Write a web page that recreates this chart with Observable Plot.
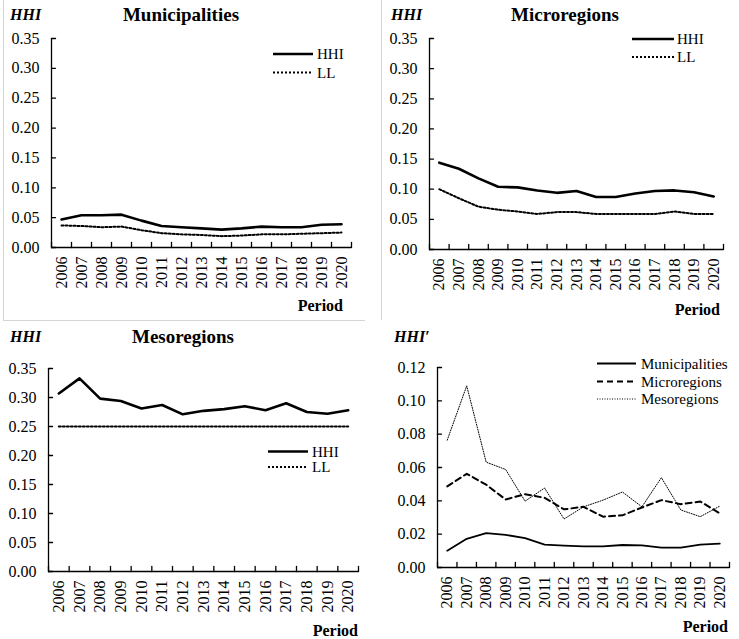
<!DOCTYPE html>
<html>
<head>
<meta charset="utf-8">
<script src="https://cdn.jsdelivr.net/npm/d3@7"></script>
<script src="https://cdn.jsdelivr.net/npm/@observablehq/plot@0.6"></script>
<style>
  html, body { margin: 0; padding: 0; background: #fff; }
  #wrap { position: relative; width: 739px; height: 639px; overflow: hidden; background: #fff; }
  #wrap > svg { position: absolute; }
  #wrap svg, #wrap svg text { font-family: 'Liberation Serif', 'Times New Roman', serif; }
</style>
</head>
<body>
<div id="wrap"></div>
<script>
// ---------- data ----------
const years = [2006, 2007, 2008, 2009, 2010, 2011, 2012, 2013, 2014, 2015, 2016, 2017, 2018, 2019, 2020];

const muniHHI = [0.047, 0.054, 0.054, 0.055, 0.045, 0.036, 0.034, 0.032, 0.030, 0.032, 0.035, 0.034, 0.034, 0.038, 0.039];
const muniLL  = [0.037, 0.036, 0.034, 0.035, 0.029, 0.024, 0.022, 0.021, 0.019, 0.020, 0.022, 0.022, 0.023, 0.024, 0.025];

const microHHI = [0.144, 0.134, 0.118, 0.104, 0.103, 0.098, 0.094, 0.097, 0.087, 0.087, 0.093, 0.097, 0.098, 0.095, 0.088];
const microLL  = [0.100, 0.085, 0.071, 0.066, 0.063, 0.059, 0.062, 0.062, 0.059, 0.059, 0.059, 0.059, 0.063, 0.059, 0.059];

const mesoHHI = [0.307, 0.333, 0.298, 0.294, 0.281, 0.287, 0.271, 0.277, 0.280, 0.285, 0.278, 0.290, 0.275, 0.272, 0.278];
const mesoLL  = [0.25, 0.25, 0.25, 0.25, 0.25, 0.25, 0.25, 0.25, 0.25, 0.25, 0.25, 0.25, 0.25, 0.25, 0.25];

const primeMuni  = [0.0101, 0.0172, 0.0206, 0.0196, 0.0176, 0.0137, 0.0131, 0.0127, 0.0127, 0.0135, 0.0133, 0.0119, 0.0119, 0.0137, 0.0143];
const primeMicro = [0.0487, 0.0562, 0.0497, 0.0408, 0.0440, 0.0418, 0.0349, 0.0364, 0.0305, 0.0313, 0.0360, 0.0404, 0.0380, 0.0396, 0.0325];
const primeMeso  = [0.0764, 0.1090, 0.0632, 0.0588, 0.0398, 0.0477, 0.0291, 0.0364, 0.0404, 0.0453, 0.0364, 0.0539, 0.0345, 0.0305, 0.0368];

const yTicksHHI   = [0, 0.05, 0.10, 0.15, 0.20, 0.25, 0.30, 0.35];
const yTicksPrime = [0, 0.02, 0.04, 0.06, 0.08, 0.10, 0.12];

const titles = ["Municipalities", "Microregions", "Mesoregions", ""];
const yLabels = ["HHI", "HHI", "HHI", "HHI\u2032"];
const legendHHI = ["HHI", "LL"];
const legendPrime = ["Municipalities", "Microregions", "Mesoregions"];

// ---------- drawing ----------
const FONT = "'Liberation Serif', 'Times New Roman', serif";
const wrap = document.getElementById("wrap");

const SOLID = {strokeWidth: 2.6, dash: null};
const DOT = {strokeWidth: 2, dash: "2,2"};
const THIN = {strokeWidth: 1.8, dash: null};
const DASH = {strokeWidth: 2, dash: "6,4"};
const FINEDOT = {strokeWidth: 1, dash: "1,1.5"};

function rows(values) { return years.map((year, i) => ({year, value: values[i]})); }

const tickShape = {draw(context, l) { context.moveTo(0, 0); context.lineTo(0, -l); }};

function panel(cfg) {
  const xDomain = [years[0] - 0.5, years[years.length - 1] + 0.5];
  const halfTicks = [years[0] - 0.5, ...years.map(y => y + 0.5)];
  const ax = {stroke: "black", strokeWidth: 1.3};
  const chart = Plot.plot({
    width: cfg.width,
    height: cfg.height,
    marginLeft: cfg.ml, marginRight: cfg.mr, marginTop: cfg.mt, marginBottom: cfg.mb,
    x: {type: "linear", domain: xDomain, axis: null},
    y: {type: "linear", domain: [0, cfg.yTicks[cfg.yTicks.length - 1]], axis: null},
    style: {fontFamily: FONT, fontSize: "16px", color: "black", background: "transparent", overflow: "visible"},
    marks: [
      // inward tick marks
      Plot.vector(cfg.yTicks, {x: xDomain[0], y: d => d, length: 4, rotate: 90, anchor: "start", shape: tickShape, stroke: "black", strokeWidth: 1.3}),
      Plot.vector(halfTicks, {x: d => d, y: 0, length: 5, rotate: 0, anchor: "start", shape: tickShape, stroke: "black", strokeWidth: 1.3}),
      // tick labels
      Plot.axisY({ticks: cfg.yTicks, tickSize: 0, tickPadding: 12, tickFormat: d3.format(".2f"), label: null, fontSize: 16, fontFamily: FONT}),
      Plot.axisX({ticks: years, tickSize: 0, tickPadding: 9, tickRotate: -90, tickFormat: d => String(d), label: null, fontSize: 16, fontFamily: FONT}),
      // axis lines
      Plot.ruleX([xDomain[0]], ax),
      Plot.ruleY([0], ax),
      ...cfg.series.map(s => Plot.line(rows(s.values), {
        x: "year", y: "value", stroke: "black",
        strokeWidth: s.style.strokeWidth, strokeDasharray: s.style.dash,
        strokeLinejoin: "round", curve: "linear"
      }))
    ]
  });
  chart.style.left = cfg.left + "px";
  chart.style.top = cfg.top + "px";
  chart.style.fontFamily = FONT;
  wrap.appendChild(chart);
}

panel({left: 0, top: 0, width: 370, height: 320, ml: 51, mr: 19, mt: 38, mb: 73, yTicks: yTicksHHI,
  series: [{values: muniHHI, style: SOLID}, {values: muniLL, style: DOT}]});
panel({left: 370, top: 0, width: 369, height: 320, ml: 59, mr: 16, mt: 38, mb: 71, yTicks: yTicksHHI,
  series: [{values: microHHI, style: SOLID}, {values: microLL, style: DOT}]});
panel({left: 0, top: 320, width: 370, height: 319, ml: 48, mr: 12, mt: 48, mb: 68, yTicks: yTicksHHI,
  series: [{values: mesoHHI, style: SOLID}, {values: mesoLL, style: DOT}]});
panel({left: 370, top: 320, width: 369, height: 319, ml: 67, mr: 10, mt: 47, mb: 72, yTicks: yTicksPrime,
  series: [{values: primeMuni, style: THIN}, {values: primeMicro, style: DASH}, {values: primeMeso, style: FINEDOT}]});

// ---------- overlay: titles, labels, legends, borders ----------
const ov = d3.select(wrap).append("svg")
  .attr("width", 739).attr("height", 639)
  .style("left", "0px").style("top", "0px")
  .style("font-family", FONT);

// faint image borders
const border = "#d4d4d4";
ov.append("line").attr("x1", 3.5).attr("x2", 3.5).attr("y1", 0).attr("y2", 320).attr("stroke", border);
ov.append("line").attr("x1", 3).attr("x2", 365).attr("y1", 320.5).attr("y2", 320.5).attr("stroke", border);
ov.append("line").attr("x1", 381.5).attr("x2", 381.5).attr("y1", 0).attr("y2", 320).attr("stroke", border);

function txt(s, x, y, opt = {}) {
  ov.append("text").text(s)
    .attr("x", x).attr("y", y)
    .attr("dy", "0.35em")
    .attr("text-anchor", opt.anchor || "start")
    .attr("font-size", opt.size || 16)
    .attr("font-weight", opt.weight || "normal")
    .attr("font-style", opt.style || "normal")
    .attr("font-family", FONT)
    .attr("fill", "black");
}

// y labels
const yLabPos = [[10, 14], [391, 14], [10, 336], [394, 336]];
yLabels.forEach((s, i) => txt(s, yLabPos[i][0], yLabPos[i][1], {weight: "bold", style: "italic", size: 16}));

// titles
const titlePos = [[181, 14], [565, 14], [183, 336]];
titles.forEach((s, i) => { if (s) txt(s, titlePos[i][0], titlePos[i][1], {anchor: "middle", weight: "bold", size: 19}); });

// "Period"
const periodPos = [[343, 305], [720, 309], [358, 630], [728, 626]];
periodPos.forEach(p => txt("Period", p[0], p[1], {anchor: "end", weight: "bold", size: 16}));

// legends
function legend(x1, x2, tx, ys, labels, styles) {
  labels.forEach((lab, i) => {
    ov.append("line").attr("x1", x1).attr("x2", x2).attr("y1", ys[i]).attr("y2", ys[i])
      .attr("stroke", "black").attr("stroke-width", styles[i].strokeWidth)
      .attr("stroke-dasharray", styles[i].dash);
    txt(lab, tx, ys[i], {size: 15});
  });
}
legend(273, 313, 317, [54, 72.5], legendHHI, [SOLID, DOT]);
legend(632, 674, 677, [39, 57], legendHHI, [SOLID, DOT]);
legend(268, 308, 312, [451.5, 467], legendHHI, [SOLID, DOT]);
legend(597, 636, 641, [363.5, 381.5, 399], legendPrime, [THIN, DASH, FINEDOT]);
</script>
</body>
</html>
